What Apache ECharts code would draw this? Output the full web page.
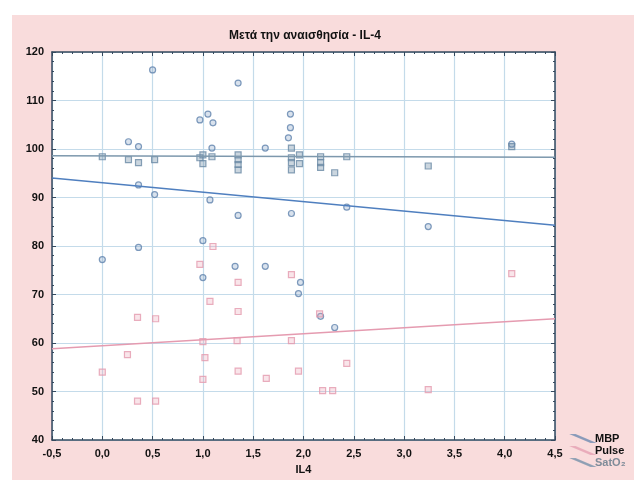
<!DOCTYPE html>
<html>
<head>
<meta charset="utf-8">
<script src="https://cdn.jsdelivr.net/npm/echarts@6/dist/echarts.min.js"></script>
<style>
  html, body { margin: 0; padding: 0; background: #fff; }
  #wrap { position: absolute; left: 12px; top: 15px; width: 622px; height: 465px; background: #f9dcdc; }
  #chart { position: absolute; left: 0; top: 0; width: 634px; height: 480px; }
</style>
</head>
<body>
<div id="wrap"></div>
<div id="chart"></div>
<script>
// values: [IL4, value]
const mbpPoints = [
  [0.5, 116.3], [1.35, 113.6], [0.97, 106], [1.05, 107.2], [1.1, 105.4],
  [0.26, 101.5], [0.36, 100.5], [1.09, 100.2], [1.62, 100.2], [1.87, 107.2],
  [1.87, 104.4], [1.85, 102.3], [4.07, 101], [0.36, 92.6], [0.52, 90.6],
  [1.07, 89.5], [1.35, 86.3], [1.88, 86.7], [2.43, 88], [3.24, 84],
  [0.36, 79.7], [0, 77.2], [1.0, 81.1], [1.0, 73.5], [1.32, 75.8],
  [1.62, 75.8], [1.97, 72.5], [1.95, 70.2], [2.17, 65.5], [2.31, 63.2]
]
const pulsePoints = [
  [0.97, 76.2], [1.1, 79.9], [1.35, 72.5], [1.35, 66.5], [1.07, 68.6],
  [0.35, 65.3], [0.53, 65], [0.25, 57.6], [1.02, 57], [1.0, 52.5],
  [0.35, 48], [0.53, 48], [0, 54], [1.35, 54.2], [1.63, 52.7],
  [1.95, 54.2], [1.88, 74.1], [1.88, 60.5], [1.34, 60.5], [1.0, 60.3],
  [2.43, 55.8], [2.19, 50.2], [2.29, 50.2], [3.24, 50.4], [4.07, 74.3],
  [2.16, 66]
]
const satPoints = [
  [0, 98.4], [0.26, 97.8], [0.36, 97.2], [0.52, 97.8], [0.97, 98.2],
  [1.0, 98.8], [1.09, 98.4], [1.0, 97], [1.35, 98.8], [1.35, 97.8],
  [1.35, 96.8], [1.35, 95.7], [1.88, 100.2], [1.88, 98.2], [1.88, 97.2],
  [1.96, 98.8], [1.96, 97], [1.88, 95.7], [2.17, 98.4], [2.17, 97.2],
  [2.17, 96.2], [2.31, 95.1], [2.43, 98.4], [3.24, 96.5], [4.07, 100.5]
]
// fitted lines, ends
const mbpFit = [[-0.5, 94], [4.5, 84.3]]
const pulseFit = [[-0.5, 58.8], [4.5, 65]]
const satFit = [[-0.5, 98.6], [4.5, 98.3]]

const seriesNames = ['MBP', 'Pulse', 'SatO\u2082']
const axisColor = '#34495e'
const gridColor = '#c4dbea'
const labelFont = { fontFamily: 'Liberation Sans', fontWeight: 'bold', fontSize: 11, color: '#111' }

const chart = echarts.init(document.getElementById('chart'))

const xBase = {
  type: 'value', min: -0.5, max: 4.5, interval: 0.5,
  axisLine: { show: true, onZero: false, lineStyle: { color: axisColor, width: 1.5 } },
  axisTick: { show: true, inside: true, length: 4, lineStyle: { color: axisColor } },
  minorTick: { show: true, splitNumber: 5, length: 2, lineStyle: { color: axisColor } }
}
const yBase = {
  type: 'value', min: 40, max: 120, interval: 10,
  axisLine: { show: true, onZero: false, lineStyle: { color: axisColor, width: 1.5 } },
  axisTick: { show: true, inside: true, length: 4, lineStyle: { color: axisColor } },
  minorTick: { show: true, splitNumber: 5, length: 2, lineStyle: { color: axisColor } }
}

chart.setOption({
  backgroundColor: 'transparent',
  animation: false,
  title: {
    text: 'Μετά την αναισθησία - IL-4',
    left: 300, top: 25, textAlign: 'center',
    textStyle: { fontFamily: 'Liberation Sans', fontWeight: 'bold', fontSize: 12, color: '#111' }
  },
  grid: { left: 52, right: 79, top: 52, bottom: 39, show: true, backgroundColor: '#fff', borderWidth: 0 },
  legend: {
    orient: 'vertical', left: 568, top: 428, itemGap: 1,
    itemWidth: 18, itemHeight: 8,
    data: seriesNames.map((n, i) => ({
      name: n,
      icon: 'path://M0,0 L1.5,0 L20,8 L18.5,8 Z',
      itemStyle: { opacity: 0.7 },
      textStyle: { color: i === 2 ? '#7f8c99' : '#111' }
    })),
    textStyle: { fontFamily: 'Liberation Sans', fontWeight: 'bold', fontSize: 11, padding: [0, 0, 0, -2] }
  },
  xAxis: [
    Object.assign({}, xBase, {
      position: 'bottom',
      name: 'IL4', nameLocation: 'middle', nameGap: 24,
      nameTextStyle: labelFont,
      axisLabel: Object.assign({ margin: 8, formatter: v => v.toFixed(1).replace('.', ',') }, labelFont),
      splitLine: { show: true, lineStyle: { color: gridColor, width: 1.2 } }
    }),
    Object.assign({}, xBase, { position: 'top', axisLabel: { show: false }, splitLine: { show: false } })
  ],
  yAxis: [
    Object.assign({}, yBase, {
      position: 'left',
      axisLabel: Object.assign({ margin: 8 }, labelFont),
      splitLine: { show: true, lineStyle: { color: gridColor, width: 1.2 } }
    }),
    Object.assign({}, yBase, { position: 'right', axisLabel: { show: false }, splitLine: { show: false } })
  ],
  series: [
    {
      name: 'MBP', type: 'scatter', data: mbpPoints, symbol: 'circle', symbolSize: 6,
      itemStyle: { color: 'rgba(120,150,190,0.35)', borderColor: '#5f82ad', borderWidth: 1.2 }
    },
    {
      name: 'Pulse', type: 'scatter', data: pulsePoints, symbol: 'rect', symbolSize: 6,
      itemStyle: { color: 'rgba(235,160,180,0.35)', borderColor: '#e39aae', borderWidth: 1.2 }
    },
    {
      name: 'SatO\u2082', type: 'scatter', data: satPoints, symbol: 'rect', symbolSize: 6,
      itemStyle: { color: 'rgba(110,140,165,0.45)', borderColor: '#6a8aa5', borderWidth: 1.2 }
    },
    {
      name: 'MBP', type: 'line', data: mbpFit, symbol: 'none', silent: true,
      lineStyle: { color: '#4f7fbf', width: 1.5 }
    },
    {
      name: 'Pulse', type: 'line', data: pulseFit, symbol: 'none', silent: true,
      lineStyle: { color: '#e59bb0', width: 1.5 }
    },
    {
      name: 'SatO\u2082', type: 'line', data: satFit, symbol: 'none', silent: true,
      lineStyle: { color: '#7d98ad', width: 1.5 }
    }
  ]
})
</script>
</body>
</html>
